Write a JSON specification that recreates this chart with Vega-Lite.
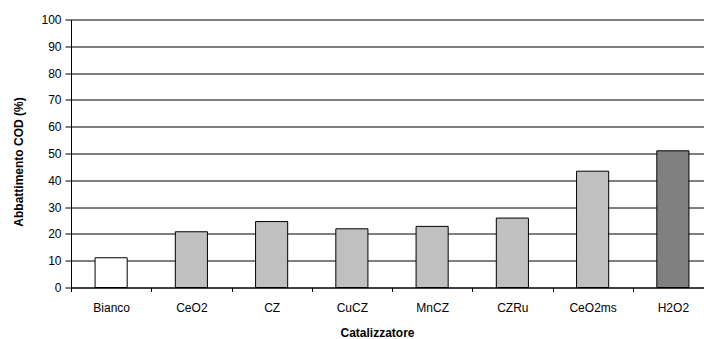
{
  "$schema": "https://vega.github.io/schema/vega-lite/v6.json",
  "autosize": "none",
  "width": 633,
  "height": 268,
  "padding": {"left": 71, "top": 19.5, "right": 0, "bottom": 51.5},
  "background": "white",
  "config": {
    "view": {"stroke": null},
    "font": "Liberation Sans"
  },
  "data": {
    "values": [
      {"cat": "Bianco", "val": 11.1, "tipo": "bianco"},
      {"cat": "CeO2", "val": 20.8, "tipo": "cat"},
      {"cat": "CZ", "val": 24.6, "tipo": "cat"},
      {"cat": "CuCZ", "val": 21.9, "tipo": "cat"},
      {"cat": "MnCZ", "val": 22.8, "tipo": "cat"},
      {"cat": "CZRu", "val": 25.9, "tipo": "cat"},
      {"cat": "CeO2ms", "val": 43.4, "tipo": "cat"},
      {"cat": "H2O2", "val": 51.0, "tipo": "h2o2"}
    ]
  },
  "mark": {"type": "bar", "width": {"band": 0.4}, "stroke": "black", "strokeWidth": 1},
  "encoding": {
    "x": {
      "field": "cat", "type": "nominal", "sort": null,
      "scale": {"range": [0, 642], "paddingInner": 0, "paddingOuter": 0},
      "axis": {
        "title": "Catalizzatore",
        "titleFont": "Liberation Sans", "titleFontSize": 12, "titleFontWeight": "bold", "titleColor": "black",
        "titlePadding": 14, "titleX": 306, "titleAnchor": "start", "titleAlign": "center",
        "labelAngle": 0, "labelFontSize": 12, "labelColor": "black", "labelPadding": 11,
        "tickBand": "extent", "tickSize": 4, "tickColor": "black",
        "domainColor": "black", "grid": false
      }
    },
    "y": {
      "field": "val", "type": "quantitative",
      "scale": {"domain": [0, 100], "nice": false},
      "axis": {
        "title": "Abbattimento COD (%)",
        "titleFont": "Liberation Sans", "titleFontSize": 12, "titleFontWeight": "bold", "titleColor": "black",
        "titleX": -46, "titleY": 142, "titleAlign": "center", "titleAngle": -90,
        "values": [0, 10, 20, 30, 40, 50, 60, 70, 80, 90, 100],
        "labelFontSize": 12, "labelColor": "black", "labelPadding": 4,
        "tickSize": 6, "tickColor": "black",
        "domainColor": "black",
        "grid": true, "gridColor": "black", "gridOpacity": 1
      }
    },
    "fill": {
      "field": "tipo", "type": "nominal", "legend": null,
      "scale": {"domain": ["bianco", "cat", "h2o2"], "range": ["#ffffff", "#c0c0c0", "#808080"]}
    }
  }
}
